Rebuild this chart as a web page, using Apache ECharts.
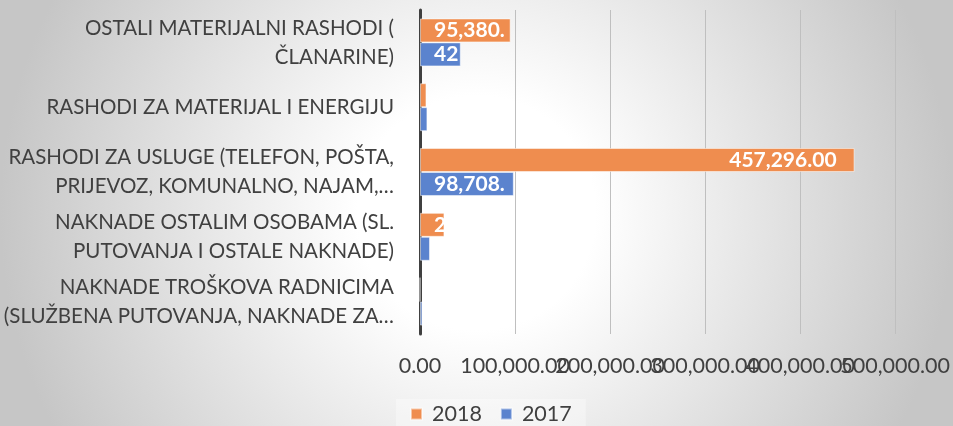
<!DOCTYPE html>
<html>
<head>
<meta charset="utf-8">
<script src="https://cdn.jsdelivr.net/npm/echarts@6/dist/echarts.min.js"></script>
<style>
  html, body { margin: 0; padding: 0; }
  body {
    width: 953px; height: 426px; overflow: hidden;
    background: radial-gradient(ellipse 50% 110% at 50% 50%, #ffffff 25%, #c6c6c6 100%);
  }
  #chart { width: 953px; height: 426px; }
</style>
</head>
<body>
<div id="chart"></div>
<script>
// kategorije odozdo prema gore
var categories = [
  'NAKNADE TROŠKOVA RADNICIMA\n(SLUŽBENA PUTOVANJA, NAKNADE ZA…',
  'NAKNADE OSTALIM OSOBAMA (SL.\nPUTOVANJA I OSTALE NAKNADE)',
  'RASHODI ZA USLUGE (TELEFON, POŠTA,\nPRIJEVOZ, KOMUNALNO, NAJAM,…',
  'RASHODI ZA MATERIJAL I ENERGIJU',
  'OSTALI MATERIJALNI RASHODI (\nČLANARINE)'
];
var years = ['2018', '2017'];
var values2018 = [0, 25700, 457296.00, 6800, 95380.00];
var values2017 = [2500, 10500, 98708.00, 7800, 42900];
var xTicks = { min: 0, max: 500000, interval: 100000 };

var FONT = 'Lato';
var fmt = function (v) {
  return Number(v).toLocaleString('en-US', { minimumFractionDigits: 2, maximumFractionDigits: 2 });
};

var chart = echarts.init(document.getElementById('chart'));

function makeSeries(name, data, color) {
  return {
    name: name,
    type: 'bar',
    data: data,
    barGap: '0%',
    barCategoryGap: '26%',
    itemStyle: { color: color, borderColor: 'rgba(255,255,255,0.5)', borderWidth: 1 },
    label: {
      show: true,
      position: 'insideRight',
      distance: 18,
      color: '#ffffff',
      fontFamily: FONT,
      fontWeight: 'bold',
      fontSize: 21,
      formatter: function (p) { return fmt(p.value); }
    }
  };
}

// the tick labels overlap like in Excel, so they are split over two
// axes (even / odd ticks) to stop ECharts from hiding any of them
function valueAxis(odd) {
  return {
    type: 'value',
    min: xTicks.min,
    max: xTicks.max,
    interval: xTicks.interval,
    position: 'bottom',
    axisLine: { show: false },
    axisTick: { show: false },
    splitLine: { show: !odd, lineStyle: { color: '#bfbfbf', width: 1 } },
    axisLabel: {
      color: '#404040', fontSize: 21.5, fontFamily: FONT, margin: 21,
      showMinLabel: true, showMaxLabel: true,
      formatter: function (v) {
        var isOdd = Math.round(v / xTicks.interval) % 2 === 1;
        return isOdd === odd ? fmt(v) : '';
      }
    }
  };
}

var option = {
  animation: false,
  backgroundColor: 'transparent',
  textStyle: { fontFamily: FONT },
  grid: { left: 420, right: 56, top: 10, bottom: 92 },
  legend: {
    data: years,
    bottom: -3,
    left: 396,
    icon: 'rect',
    itemWidth: 11,
    itemHeight: 11,
    itemGap: 18,
    padding: [4, 14],
    backgroundColor: 'rgba(255,255,255,0.35)',
    textStyle: { color: '#404040', fontSize: 21.5, fontFamily: FONT, padding: [0, 0, 0, 5] }
  },
  xAxis: [valueAxis(false), valueAxis(true)],
  yAxis: {
    type: 'category',
    data: categories,
    axisTick: { show: false },
    axisLine: { show: true, lineStyle: { color: '#404040', width: 3 } },
    axisLabel: {
      color: '#404040', fontSize: 20.5, fontFamily: FONT, lineHeight: 29,
      margin: 26, align: 'right'
    }
  },
  series: [
    makeSeries(years[0], values2018, '#ef8d4f'),
    makeSeries(years[1], values2017, '#5b83ce')
  ]
};
chart.setOption(option);

// Excel-style labels: inside end when the text fits, otherwise left-aligned and cut at bar end
var ctx = document.createElement('canvas').getContext('2d');
ctx.font = 'bold 21px ' + FONT;
function labelsFor(data) {
  var x0 = chart.convertToPixel({ xAxisIndex: 0 }, 0);
  return data.map(function (v) {
    var w = chart.convertToPixel({ xAxisIndex: 0 }, v) - x0;
    var tw = ctx.measureText(fmt(v)).width;
    if (tw + 18 + 14 <= w) return { value: v };
    if (w < 18) return { value: v, label: { show: false } };
    return {
      value: v,
      label: {
        position: 'insideLeft', distance: 14,
        width: w - 10, overflow: 'truncate', ellipsis: ''
      }
    };
  });
}
chart.setOption({
  series: [
    { name: years[0], data: labelsFor(values2018) },
    { name: years[1], data: labelsFor(values2017) }
  ]
});
</script>
</body>
</html>
